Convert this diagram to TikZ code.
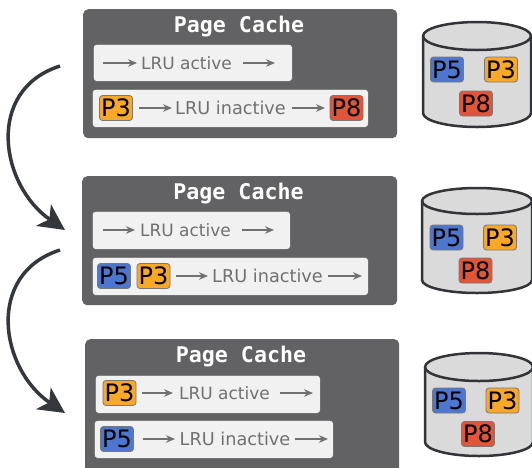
\documentclass[tikz,border=0pt]{standalone}
\usepackage{fontspec}
\setmainfont{DejaVu Sans}
\newfontfamily\titlefont{DejaVu Sans Mono}
\usetikzlibrary{arrows.meta}

\definecolor{panelgray}{RGB}{98,98,100}
\definecolor{boxfill}{RGB}{241,241,241}
\definecolor{boxline}{RGB}{95,95,95}
\definecolor{labelgray}{RGB}{112,112,112}
\definecolor{tagline}{RGB}{120,120,120}
\definecolor{pblue}{RGB}{77,119,206}
\definecolor{porange}{RGB}{250,168,40}
\definecolor{pred}{RGB}{225,86,58}
\definecolor{drumfill}{RGB}{218,218,218}
\definecolor{drumline}{RGB}{50,52,56}
\definecolor{bigarrow}{RGB}{52,55,60}

\tikzset{
  panel/.style={fill=panelgray, rounded corners=5pt, anchor=north west, inner sep=0pt},
  cachetitle/.style={text=white, anchor=base, inner sep=0pt,
    font=\titlefont\bfseries\fontsize{21.6}{24}\selectfont},
  lane/.style={fill=boxfill, draw=boxline, line width=0.7pt, rounded corners=3pt,
    anchor=north west, inner sep=0pt},
  lbl/.style={text=labelgray, inner sep=0pt, font=\fontsize{17}{20}\selectfont},
  widelbl/.style={lbl, font=\fontsize{17.7}{20}\selectfont},
  page/.style={draw=tagline, line width=0.8pt, rounded corners=3pt,
    minimum width=33pt, minimum height=25pt, inner sep=0pt,
    font=\fontsize{24}{26}\selectfont},
  pfive/.style={page, fill=pblue},
  pthree/.style={page, fill=porange},
  peight/.style={page, fill=pred},
  flow/.style={draw=labelgray, line width=1.5pt, -{Stealth[length=9pt,width=7.5pt]}},
  drum/.style={fill=drumfill, draw=drumline, line width=2.5pt},
  jump/.style={draw=bigarrow, line width=3.5pt, -{Stealth[length=26pt,width=26pt,inset=7pt]}}
}

% storage drum: #1 centre x, #2 top ellipse y, #3 bottom ellipse y, #4 x radius, #5 y radius
\newcommand\storagedrum[5]{%
  \path[drum] (#1-#4,#2) -- (#1-#4,#3)
    arc[start angle=180, end angle=360, x radius=#4pt, y radius=#5pt]
    -- (#1+#4,#2)
    arc[start angle=0, end angle=180, x radius=#4pt, y radius=#5pt] -- cycle;
  \draw[drum, fill=none] (#1-#4,#2)
    arc[start angle=180, end angle=360, x radius=#4pt, y radius=#5pt];
}

\begin{document}
\begin{tikzpicture}[x=1pt, y=-1pt]
\useasboundingbox (0,0) rectangle (532,467);

% ---------------- first state ----------------
\node[panel, minimum width=314pt, minimum height=129pt] (pc1) at (83,9) {};
\node[cachetitle] (t1) at (239,32) {Page Cache};
\node[lane, minimum width=199pt, minimum height=37pt] (a1) at (93,44) {};
\node[lane, minimum width=276pt, minimum height=38pt] (i1) at (92,89) {};
\node[lbl] (la1) at (186.5,63) {LRU active};
\draw[flow] (103,63) -- (137,63);
\draw[flow] (243,63) -- (275,63);
\node[pthree] (i1p3) at (116,108) {P3};
\node[widelbl] (li1) at (230.5,108) {LRU inactive};
\node[peight] (i1p8) at (346.5,108) {P8};
\draw[flow] (139,108) -- (172,108);
\draw[flow] (292,108) -- (325,108);

\storagedrum{477}{36}{113}{54}{14}
\node[pfive] (d1p5) at (447,69.5) {P5};
\node[pthree] (d1p3) at (501,69.5) {P3};
\node[peight] (d1p8) at (476,103.5) {P8};

% ---------------- second state ----------------
\node[panel, minimum width=315pt, minimum height=129pt] (pc2) at (82,176) {};
\node[cachetitle] (t2) at (238.5,199) {Page Cache};
\node[lane, minimum width=198pt, minimum height=38pt] (a2) at (92,211) {};
\node[lane, minimum width=276pt, minimum height=38pt] (i2) at (92,257) {};
\node[lbl] (la2) at (185.5,230) {LRU active};
\draw[flow] (103,230) -- (135,230);
\draw[flow] (242,230) -- (274,230);
\node[pfive] (i2p5) at (114,276) {P5};
\node[pthree] (i2p3) at (153.5,276) {P3};
\node[widelbl] (li2) at (267.5,276) {LRU inactive};
\draw[flow] (176,276) -- (208,276);
\draw[flow] (328,276) -- (362,276);

\storagedrum{477}{201}{280}{55}{13}
\node[pfive] (d2p5) at (446.5,237.5) {P5};
\node[pthree] (d2p3) at (500,237.5) {P3};
\node[peight] (d2p8) at (475.5,270.5) {P8};

% ---------------- third state ----------------
\node[panel, minimum width=314pt, minimum height=140pt] (pc3) at (85,339) {};
\node[cachetitle] (t3) at (241,362.5) {Page Cache};
\node[lane, minimum width=225pt, minimum height=38pt] (a3) at (95,375) {};
\node[lane, minimum width=239pt, minimum height=38pt] (i3) at (94,420) {};
\node[pthree] (a3p3) at (119.5,393) {P3};
\node[lbl] (la3) at (224.5,393) {LRU active};
\draw[flow] (142,393) -- (173,393);
\draw[flow] (280,393) -- (313,393);
\node[pfive] (i3p5) at (117,439) {P5};
\node[widelbl] (li3) at (235,439) {LRU inactive};
\draw[flow] (143,439) -- (175,439);
\draw[flow] (295,439) -- (328,439);

\storagedrum{479}{367}{442}{54}{14}
\node[pfive] (d3p5) at (449,400.5) {P5};
\node[pthree] (d3p3) at (502.5,400.5) {P3};
\node[peight] (d3p8) at (478,434) {P8};

% ---------------- transitions ----------------
\coordinate (s1) at (60,66);
\coordinate (e1) at (65,230);
\coordinate (s2) at (60,250);
\coordinate (e2) at (65,413);
\draw[jump] (s1) .. controls (-15,90) and (0,185) .. (e1);
\draw[jump] (s2) .. controls (-15,274) and (0,369) .. (e2);
\end{tikzpicture}
\end{document}
